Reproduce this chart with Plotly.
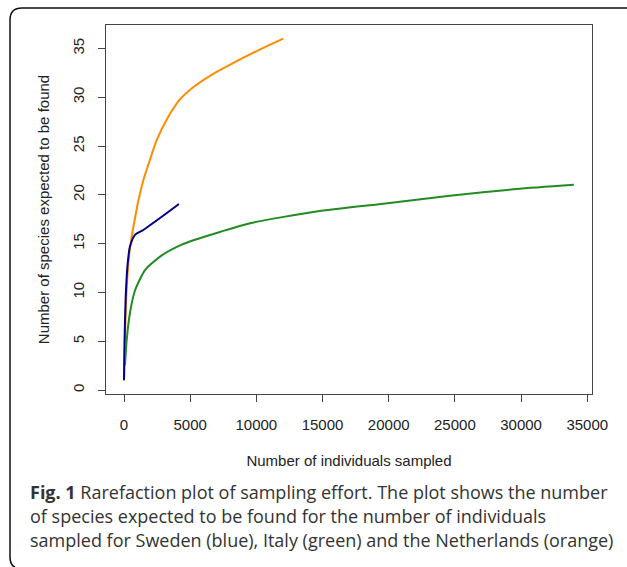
import plotly.graph_objects as go

# Sweden (blue)
sweden_x = [1, 40, 130, 280, 450, 830, 1460, 2800, 4150]
sweden_y = [1, 5, 9.6, 13, 14.7, 15.9, 16.4, 17.7, 19.06]
# Italy (green)
italy_x = [75, 200, 450, 830, 1590, 2850, 4360, 5360, 7250, 9520, 14550, 19590, 24620, 29660, 33990]
italy_y = [2.56, 5.1, 7.9, 10.2, 12.3, 13.8, 14.9, 15.4, 16.2, 17.1, 18.3, 19.1, 19.9, 20.6, 21.03]
# Netherlands (orange)
nl_x = [1, 60, 128, 240, 420, 640, 830, 1080, 1460, 1960, 2470, 3220, 4180, 5110, 6620, 8380, 10140, 12030]
nl_y = [1, 4.5, 8, 11.3, 14.2, 16.2, 17.6, 19.4, 21.5, 23.6, 25.6, 27.7, 29.7, 30.9, 32.3, 33.6, 34.8, 36.0]

x_ticks = [0, 5000, 10000, 15000, 20000, 25000, 30000, 35000]
y_ticks = [0, 5, 10, 15, 20, 25, 30, 35]

caption_lines = [
    "<b>Fig. 1</b> Rarefaction plot of sampling effort. The plot shows the number",
    "of species expected to be found for the number of individuals",
    "sampled for Sweden (blue), Italy (green) and the Netherlands (orange)",
]

W, H = 627, 567
ML, MR, MT, MB = 106, 35, 25, 173
PW, PH = W - ML - MR, H - MT - MB


def px(x):
    return (x - ML) / PW


def py(y):
    return (H - MB - y) / PH


fig = go.Figure()
fig.add_trace(go.Scatter(x=italy_x, y=italy_y, mode="lines", line=dict(color="#228B22", width=2, shape="spline", smoothing=0.6), name="Italy"))
fig.add_trace(go.Scatter(x=nl_x, y=nl_y, mode="lines", line=dict(color="#FF8C00", width=2, shape="spline", smoothing=0.6), name="Netherlands"))
fig.add_trace(go.Scatter(x=sweden_x, y=sweden_y, mode="lines", line=dict(color="#00008B", width=2, shape="spline", smoothing=0.6), name="Sweden"))

axis_font = dict(family="Liberation Sans, Arial, sans-serif", size=15, color="#222")

fig.update_layout(
    width=W, height=H,
    margin=dict(l=ML, r=MR, t=MT, b=MB, autoexpand=False),
    paper_bgcolor="white", plot_bgcolor="white",
    showlegend=False,
    font=axis_font,
    xaxis=dict(
        range=[-1360, 35360], tickvals=x_ticks, ticktext=[str(v) for v in x_ticks],
        showgrid=False, zeroline=False, showline=True, mirror=True, linecolor="#444", linewidth=1.3,
        ticks="outside", ticklen=7, tickcolor="#444", tickwidth=1.3, automargin=False,
        tickfont=axis_font, ticklabelstandoff=10,
        title=dict(text="Number of individuals sampled", font=axis_font, standoff=23),
    ),
    yaxis=dict(
        range=[-0.4, 37.4], tickvals=y_ticks, ticktext=[str(v) for v in y_ticks],
        showgrid=False, zeroline=False, showline=True, mirror=True, linecolor="#444", linewidth=1.3,
        ticks="outside", ticklen=7, tickcolor="#444", tickwidth=1.3, automargin=False,
        tickangle=-90, tickfont=axis_font, ticklabelstandoff=8,
        title=dict(text="Number of species expected to be found", font=axis_font, standoff=16),
    ),
)

# outer rounded border
x0, y0, x1, y1, r = 10, 8, 640, 569, 12
path = (
    f"M {px(x0)} {py(y0 + r)} Q {px(x0)} {py(y0)} {px(x0 + r)} {py(y0)} "
    f"L {px(x1)} {py(y0)} L {px(x1)} {py(y1)} L {px(x0 + r)} {py(y1)} "
    f"Q {px(x0)} {py(y1)} {px(x0)} {py(y1 - r)} Z"
)
fig.add_shape(type="path", path=path, xref="paper", yref="paper", line=dict(color="#111", width=1.5), layer="above")

for i, line in enumerate(caption_lines):
    fig.add_annotation(
        text=line, x=px(28), y=py(492 + 24 * i), xref="paper", yref="paper",
        xanchor="left", yanchor="middle", showarrow=False, align="left",
        font=dict(family="Open Sans, Noto Sans, sans-serif", size=18, color="#333"),
    )

fig.write_html(
    "out.html",
    config={"displayModeBar": False},
    post_script="document.body.style.margin='0';document.body.style.overflow='hidden';",
)
